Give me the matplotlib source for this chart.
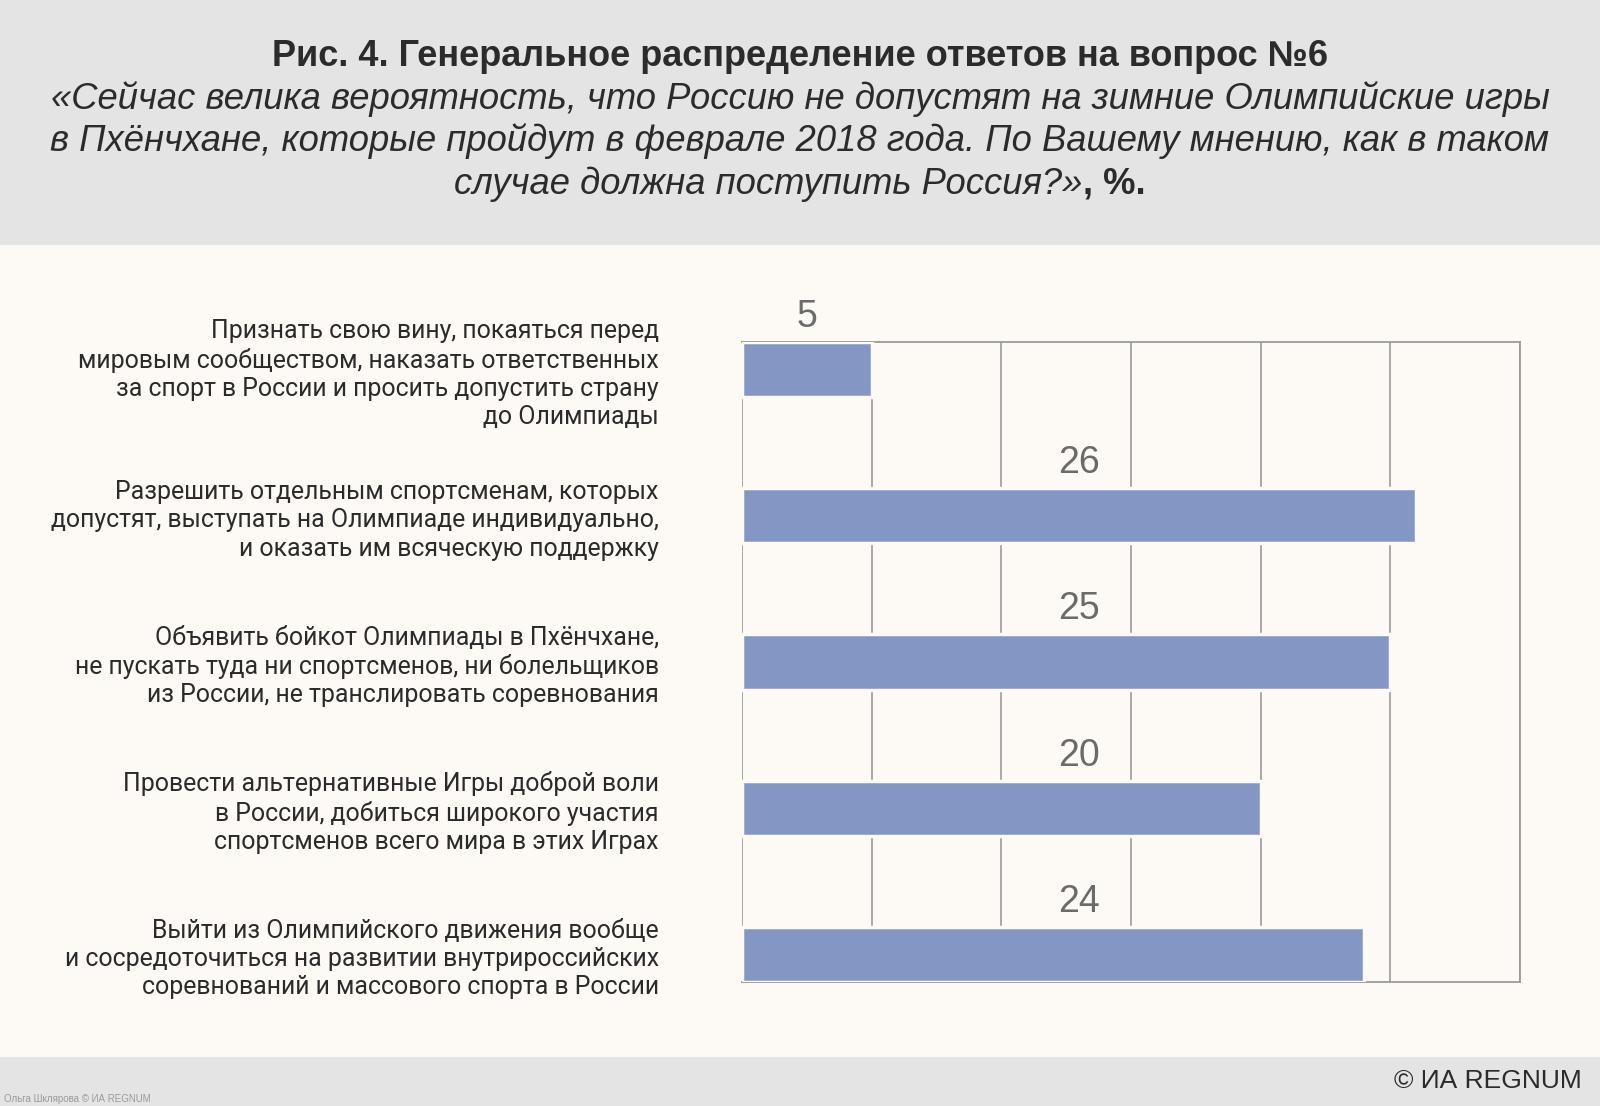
import matplotlib
matplotlib.use('Agg')
import matplotlib.pyplot as plt
from matplotlib import font_manager
from matplotlib.patches import Rectangle

# fonts
installed = {f.name for f in font_manager.fontManager.ttflist}
HEADF = 'Liberation Sans Narrow' if 'Liberation Sans Narrow' in installed else 'Liberation Sans'
BASE = 'Roboto' if 'Roboto' in installed else 'DejaVu Sans'
plt.rcParams['font.family'] = [BASE, 'DejaVu Sans']

# data
answers = [
    'Признать свою вину, покаяться перед\nмировым сообществом, наказать ответственных\nза спорт в России и просить допустить страну\nдо Олимпиады',
    'Разрешить отдельным спортсменам, которых\nдопустят, выступать на Олимпиаде индивидуально,\nи оказать им всяческую поддержку',
    'Объявить бойкот Олимпиады в Пхёнчхане,\nне пускать туда ни спортсменов, ни болельщиков\nиз России, не транслировать соревнования',
    'Провести альтернативные Игры доброй воли\nв России, добиться широкого участия\nспортсменов всего мира в этих Играх',
    'Выйти из Олимпийского движения вообще\nи сосредоточиться на развитии внутрироссийских\nсоревнований и массового спорта в России',
]
shares = [5, 26, 25, 20, 24]

title = 'Рис. 4. Генеральное распределение ответов на вопрос №6'
question = ['«Сейчас велика вероятность, что Россию не допустят на зимние Олимпийские игры',
            'в Пхёнчхане, которые пройдут в феврале 2018 года. По Вашему мнению, как в таком',
            'случае должна поступить Россия?»']

BG = '#fdfaf6'
HEAD = '#e4e4e4'
BAR = '#8497c4'
GRID = '#9a9a9a'
INK = '#2b2b2b'

W, H = 1600, 1106
fig = plt.figure(figsize=(W / 100, H / 100), dpi=100, facecolor=BG)

# header and footer bands
fig.patches.append(Rectangle((0, 1 - 245 / H), 1, 245 / H, transform=fig.transFigure,
                             facecolor=HEAD, edgecolor='none', zorder=0))
fig.patches.append(Rectangle((0, 0), 1, 49 / H, transform=fig.transFigure,
                             facecolor=HEAD, edgecolor='none', zorder=0))

ax = fig.add_axes([742 / W, 1 - 982 / H, (1520 - 742) / W, (982 - 342) / H])
ax.set_facecolor('none')

h = 0.378
ypos = list(range(len(shares)))
ax.barh(ypos, shares, height=h, color=BAR, edgecolor=BG, linewidth=2.5, zorder=3)

ax.set_xlim(0, 30)
ax.set_ylim(len(shares) - 1 + h / 2, -h / 2)
ax.set_xticks(range(0, 31, 5))
ax.xaxis.grid(True, color=GRID, linewidth=1.2, zorder=1)
ax.tick_params(axis='x', length=0, labelbottom=False)
ax.tick_params(axis='y', length=0, pad=60)
ax.set_yticks(ypos)
ax.set_yticklabels(answers, fontsize=17.9, color=INK, linespacing=1.22, ha='right')
ax.spines['left'].set_visible(False)
for s in ['top', 'right', 'bottom']:
    ax.spines[s].set_color(GRID)
    ax.spines[s].set_linewidth(1.3)

# value labels: the short bar gets its label centred, the rest sit mid-axis
for y, v in zip(ypos, shares):
    lx = v / 2 if v < 10 else 13
    ax.annotate(str(v), xy=(lx, y - h / 2), xytext=(0, 5), textcoords='offset points',
                ha='center', va='bottom', fontsize=27, color='#6b6b6b',
                family=[HEADF, 'DejaVu Sans'], annotation_clip=False)

# headline
fig.text(0.5, 1 - 57 / H, title, ha='center', va='center', fontsize=26,
         fontweight='bold', color=INK, family=[HEADF, 'DejaVu Sans'])
QS = 26.2
for i, line in enumerate(question):
    yy = 1 - (99 + 42.5 * i) / H
    if i < 2:
        fig.text(0.5, yy, line, ha='center', va='center', fontsize=QS, style='italic',
                 color=INK, family=[HEADF, 'DejaVu Sans'])
    else:
        # italic quote followed by bold ", %." centred together
        a = fig.text(0, yy, line, ha='left', va='center', fontsize=QS,
                     style='italic', color=INK, family=[HEADF, 'DejaVu Sans'])
        b = fig.text(0, yy, ', %.', ha='left', va='center', fontsize=QS,
                     fontweight='bold', color=INK, family=[HEADF, 'DejaVu Sans'])
        fig.canvas.draw()
        wa = a.get_window_extent().width
        wb = b.get_window_extent().width
        x0 = (W - wa - wb) / 2
        a.set_x(x0 / W)
        b.set_x((x0 + wa) / W)

# footer
fig.text(1 - 18 / W, 25 / H, '© ИА REGNUM', ha='right', va='center', fontsize=19,
         color=INK, family=[HEADF, 'DejaVu Sans'])
fig.text(4 / W, 7 / H, 'Ольга Шклярова © ИА REGNUM', ha='left', va='center', fontsize=7,
         color='#9a9a9a', family=[HEADF, 'DejaVu Sans'])

fig.savefig('out.png', dpi=100, facecolor=BG)
